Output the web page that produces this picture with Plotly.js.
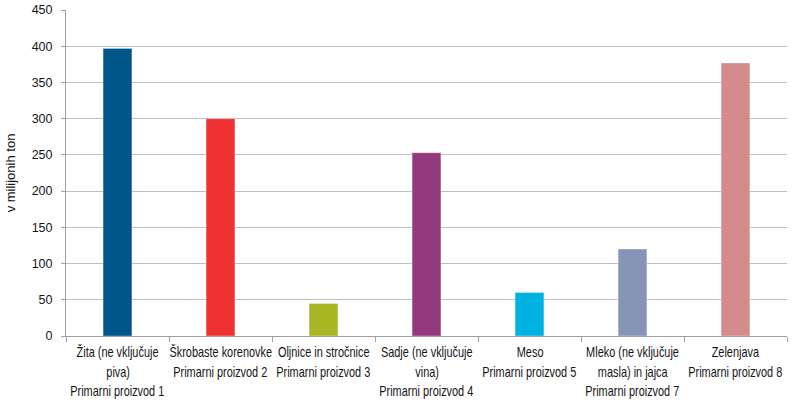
<!DOCTYPE html>
<html><head><meta charset="utf-8">
<script src="https://cdn.plot.ly/plotly-3.0.1.min.js"></script>
<style>html,body{margin:0;padding:0;background:#fff}#c{width:800px;height:405px}
#c .annotation-text{transform-box:fill-box;transform-origin:center;transform:scaleX(0.78)}</style>
</head><body><div id="c"></div>
<script>
const categories = [
  "Žita (ne vključuje<br>piva)<br>Primarni proizvod 1",
  "Škrobaste korenovke<br>Primarni proizvod 2",
  "Oljnice in stročnice<br>Primarni proizvod 3",
  "Sadje (ne vključuje<br>vina)<br>Primarni proizvod 4",
  "Meso<br>Primarni proizvod 5",
  "Mleko (ne vključuje<br>masla) in jajca<br>Primarni proizvod 7",
  "Zelenjava<br>Primarni proizvod 8"
];
const values = [397, 300, 45, 253, 60, 120, 377];
const colors = ["#00558A", "#EE3231", "#A8B623", "#95397E", "#00B2E2", "#8694B7", "#D38B8C"];
const yTicks = [0, 50, 100, 150, 200, 250, 300, 350, 400, 450];
const yTitle = "v milijonih ton";

const font = "'Liberation Sans', Arial, sans-serif";
const labelFont = {family: font, size: 14, color: "#151515"};

// category labels drawn line by line (text from the categories array)
const annotations = [];
categories.forEach(cat => {
  cat.split("<br>").forEach((line, j) => {
    annotations.push({
      x: cat, y: 0, xref: "x", yref: "y",
      text: line, showarrow: false,
      xanchor: "center", yanchor: "middle",
      yshift: -(16 + 19.5 * j),
      font: labelFont
    });
  });
});

Plotly.newPlot("c", [{
  type: "bar",
  x: categories,
  y: values,
  marker: {color: colors, line: {color: "rgba(255,255,255,0.35)", width: 1}},
  hoverinfo: "none"
}], {
  width: 800, height: 405,
  margin: {l: 66, r: 13, t: 10, b: 69},
  paper_bgcolor: "#fff", plot_bgcolor: "#fff",
  bargap: 0.72,
  showlegend: false,
  font: {family: font, size: 13, color: "#151515"},
  annotations: annotations,
  xaxis: {
    type: "category",
    range: [-0.5, categories.length - 0.5],
    autorange: false,
    tickson: "boundaries",
    ticks: "outside", ticklen: 5, tickcolor: "#a0a0a0",
    showline: true, linecolor: "#a0a0a0", linewidth: 1,
    showgrid: false,
    showticklabels: false
  },
  yaxis: {
    range: [0, 450],
    autorange: false,
    tickvals: yTicks,
    ticktext: yTicks.map(String),
    ticks: "outside", ticklen: 4, tickcolor: "#a0a0a0",
    ticklabelstandoff: 6,
    showline: true, linecolor: "#a0a0a0", linewidth: 1,
    showgrid: true, gridcolor: "#bfbfbf", gridwidth: 1,
    zeroline: false,
    tickfont: {family: font, size: 12.5, color: "#151515"},
    title: {text: yTitle, font: {family: font, size: 13, color: "#151515"}, standoff: 13}
  }
}, {staticPlot: true});
</script></body></html>
